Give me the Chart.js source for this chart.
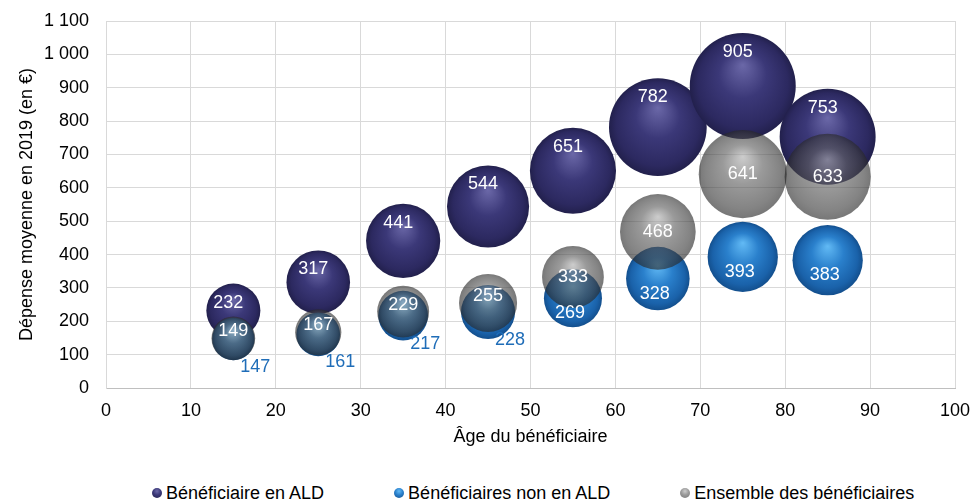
<!DOCTYPE html>
<html lang="fr">
<head>
<meta charset="utf-8">
<script src="https://cdn.jsdelivr.net/npm/chart.js@4.4.1/dist/chart.umd.min.js"></script>
<style>
  body { margin: 0; background: #fff; font-family: "Liberation Sans", Arial, sans-serif; }
  #wrap { position: relative; width: 972px; height: 502px; }
  #chart { position: absolute; left: 0; top: 0; }
  #legend { position: absolute; left: 152px; top: 482px; display: flex; gap: 70px; font-size: 18px; color: #000; line-height: 22px; }
  #legend span.item { display: flex; align-items: center; }
  #legend i { display: inline-block; width: 10px; height: 10px; border-radius: 50%; margin-right: 4px; }
</style>
</head>
<body>
<div id="wrap">
  <canvas id="chart" width="972" height="448"></canvas>
  <div id="legend"></div>
</div>
<script>
// tranches d'âge (centre de classe)
const ages = [15, 25, 35, 45, 55, 65, 75, 85]

// dépense moyenne en 2019 (en €)
const depenseALD = [232, 317, 441, 544, 651, 782, 905, 753]
const depenseNonALD = [147, 161, 217, 228, 269, 328, 393, 383]
const depenseEnsemble = [149, 167, 229, 255, 333, 468, 641, 633]

// taille des bulles (valeur relative)
const tailleALD = [26, 36, 49, 60, 66, 85, 100, 82]
const tailleNonALD = [16, 17, 22, 26, 30, 36, 44, 44]
const tailleEnsemble = [17, 19, 24, 30, 34, 51, 69, 66]

const seriesLabels = ['Bénéficiaire en ALD', 'Bénéficiaires non en ALD', 'Ensemble des bénéficiaires']

const yTicks = [0, 100, 200, 300, 400, 500, 600, 700, 800, 900, 1000, 1100]

const BUBBLE_SCALE = 5.3
const FONT = '"Liberation Sans", Arial, sans-serif'

const palettes = [
  ['#6B68A8', '#3B3878', '#2C2960', '#22204C'],
  ['#62BAF5', '#2A80CC', '#1A62AA', '#134F8D'],
  ['rgba(175,175,175,0.63)', 'rgba(95,95,95,0.63)', 'rgba(60,60,60,0.63)', 'rgba(40,40,40,0.63)']
]

// bulles sans marge automatique autour de la zone de tracé (comme Excel)
class FlatBubbleController extends Chart.BubbleController {
  getMaxOverflow() {
    return false
  }
}
FlatBubbleController.id = 'flatBubble'
FlatBubbleController.defaults = Chart.BubbleController.defaults
FlatBubbleController.overrides = Chart.BubbleController.overrides
Chart.register(FlatBubbleController)

const toPoints = (values, sizes) => values.map((v, i) => ({
  x: ages[i],
  y: v,
  r: BUBBLE_SCALE * Math.sqrt(sizes[i])
}))

const sphere = (colors) => (context) => {
  if (context.type !== 'data') return colors[1]
  const { chart, raw } = context
  const xs = chart.scales.x
  const ys = chart.scales.y
  if (!xs || !ys || !raw) return colors[1]
  const cx = xs.getPixelForValue(raw.x)
  const cy = ys.getPixelForValue(raw.y)
  const r = raw.r
  if (!isFinite(cx) || !isFinite(cy) || !isFinite(r)) return colors[1]
  const g = chart.ctx.createRadialGradient(cx, cy - r * 0.4, 0, cx, cy, r)
  g.addColorStop(0, colors[0])
  g.addColorStop(0.45, colors[1])
  g.addColorStop(0.85, colors[2])
  g.addColorStop(1, colors[3])
  return g
}

const formatThousands = (v) => String(v).replace(/\B(?=(\d{3})+(?!\d))/g, ' ')

// étiquettes de valeurs
const valueLabels = {
  id: 'valueLabels',
  afterDatasetsDraw(chart) {
    const ctx = chart.ctx
    ctx.save()
    ctx.font = '18px ' + FONT
    ctx.textAlign = 'center'
    ctx.textBaseline = 'middle'
    chart.data.datasets.forEach((ds, di) => {
      const meta = chart.getDatasetMeta(di)
      meta.data.forEach((el, i) => {
        const value = ds.data[i].y
        const r = ds.data[i].r
        let x = el.x
        let y = el.y
        ctx.fillStyle = '#fff'
        if (di === 0) {
          x -= 5
          y -= Math.max(r - 19, 6)
        } else if (di === 1) {
          if (r < 28) {
            x += 22
            y += 28
            ctx.fillStyle = '#1F6DB8'
          } else {
            x -= 3
            y += 15
          }
        } else {
          if (r < 30) y -= 7
        }
        ctx.fillText(String(value), x, y)
      })
    })
    ctx.restore()
  }
}

const datasets = [
  { label: seriesLabels[0], data: toPoints(depenseALD, tailleALD), backgroundColor: sphere(palettes[0]), order: 2 },
  { label: seriesLabels[1], data: toPoints(depenseNonALD, tailleNonALD), backgroundColor: sphere(palettes[1]), order: 1 },
  { label: seriesLabels[2], data: toPoints(depenseEnsemble, tailleEnsemble), backgroundColor: sphere(palettes[2]), order: 0 }
]

new Chart(document.getElementById('chart'), {
  type: 'flatBubble',
  data: { datasets: datasets.map(d => ({ ...d, borderWidth: 0, hoverBorderWidth: 0 })) },
  options: {
    responsive: false,
    animation: false,
    events: [],
    layout: { padding: { top: 21, right: 17, bottom: 0, left: 16 } },
    plugins: {
      legend: { display: false },
      tooltip: { enabled: false }
    },
    scales: {
      x: {
        type: 'linear',
        min: 0,
        max: 100,
        ticks: { stepSize: 10, padding: 12, color: '#000', font: { size: 18, family: FONT } },
        grid: { color: '#D9D9D9', drawTicks: false },
        border: { color: '#BFBFBF', width: 1 },
        title: { display: true, text: 'Âge du bénéficiaire', color: '#000', padding: 0, font: { size: 18, family: FONT } },
        afterFit: (scale) => {
          scale.height = 60
          scale.paddingLeft = 0
          scale.paddingRight = 0
        }
      },
      y: {
        type: 'linear',
        min: 0,
        max: 1100,
        afterBuildTicks: (scale) => { scale.ticks = yTicks.map(v => ({ value: v })) },
        ticks: { padding: 17, color: '#000', font: { size: 18, family: FONT }, callback: (v) => formatThousands(v) },
        grid: { color: '#D9D9D9', drawTicks: false },
        border: { color: '#D9D9D9', width: 1 },
        title: { display: true, text: 'Dépense moyenne en 2019 (en €)', color: '#000', padding: 0, font: { size: 18, family: FONT } },
        afterFit: (scale) => {
          scale.width = 90
          scale.paddingTop = 0
          scale.paddingBottom = 0
        }
      }
    }
  },
  plugins: [valueLabels]
})

// légende
const legendEl = document.getElementById('legend')
seriesLabels.forEach((label, i) => {
  const p = palettes[i]
  const item = document.createElement('span')
  item.className = 'item'
  const dot = document.createElement('i')
  dot.style.background = `radial-gradient(circle at 50% 32%, ${p[0]} 0%, ${p[1]} 45%, ${p[3]} 100%)`
  item.appendChild(dot)
  item.appendChild(document.createTextNode(label))
  legendEl.appendChild(item)
})
</script>
</body>
</html>
